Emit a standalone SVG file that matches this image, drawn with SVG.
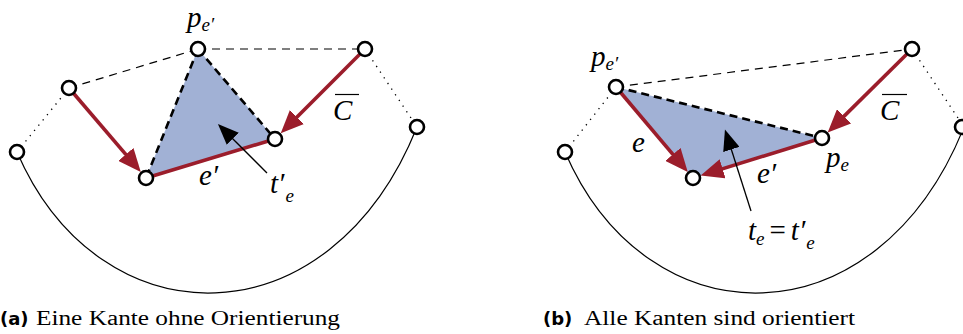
<svg xmlns="http://www.w3.org/2000/svg" width="963" height="334" viewBox="0 0 963 334">
<defs>
<style>
.node{fill:#fff;stroke:#000;stroke-width:2.6}
.red{stroke:#9b1d2b;stroke-width:3.6;fill:none}
.tri{fill:#a1b1d5;stroke:none}
.dash{stroke:#000;stroke-width:1.2;stroke-dasharray:8 6;fill:none}
.dashb{stroke:#000;stroke-width:2.6;stroke-dasharray:8 5;fill:none}
.dot{stroke:#000;stroke-width:1.3;stroke-dasharray:1.3 5.5;fill:none}
.curve{stroke:#000;stroke-width:1.2;fill:none}
.ptr{stroke:#000;stroke-width:1.3;fill:none}
.m{font-family:"Liberation Serif","DejaVu Serif",serif;font-style:italic;fill:#000}
.cap{font-family:"Liberation Serif","DejaVu Serif",serif;font-size:20px;fill:#000}
.capb{font-family:"DejaVu Sans","Liberation Sans",sans-serif;font-weight:bold;font-size:18px;fill:#000}
</style>
<marker id="ar" markerUnits="userSpaceOnUse" markerWidth="24" markerHeight="20" refX="13" refY="10" orient="auto">
<path d="M0,0 L23,10 L0,20 z" fill="#9b1d2b"/>
</marker>
<marker id="ab" markerUnits="userSpaceOnUse" markerWidth="22" markerHeight="17" refX="11" refY="8.5" orient="auto">
<path d="M0,0 L21,8.5 L0,17 z" fill="#000"/>
</marker>
</defs>

<g id="panel-a">
<g id="connectors-a">
<polygon class="tri" points="198,49 146,178 275,139"/>
<path class="curve" d="M17,152 C100,344 330,344 417,127"/>
<line class="dot" x1="17" y1="152" x2="69" y2="88"/>
<line class="dot" x1="365" y1="49" x2="417" y2="127"/>
<line class="dash" x1="69" y1="88" x2="198" y2="49"/>
<line class="dash" x1="198" y1="49" x2="365" y2="49"/>
<line class="dashb" x1="198" y1="49" x2="146" y2="178"/>
<line class="dashb" x1="198" y1="49" x2="275" y2="139"/>
<line class="red" x1="146" y1="178" x2="275" y2="139"/>
<line class="red" x1="69" y1="88" x2="134.3" y2="164.3" marker-end="url(#ar)"/>
<line class="red" x1="365" y1="49" x2="287.8" y2="126.2" marker-end="url(#ar)"/>
<line class="ptr" x1="267" y1="173" x2="225" y2="131" marker-end="url(#ab)"/>
</g>
<g id="a1"><circle class="node" cx="17" cy="152" r="7"/></g>
<g id="a2"><circle class="node" cx="69" cy="88" r="7"/></g>
<g id="a3"><circle class="node" cx="198" cy="49" r="7"/></g>
<g id="a4"><circle class="node" cx="365" cy="49" r="7"/></g>
<g id="a5"><circle class="node" cx="417" cy="127" r="7"/></g>
<g id="a6"><circle class="node" cx="146" cy="178" r="7"/></g>
<g id="a7"><circle class="node" cx="275" cy="139" r="7"/></g>
<text class="m" x="187" y="27" font-size="29">p<tspan font-size="19" dy="4">e′</tspan></text>
<text class="m" x="199" y="185" font-size="29">e′</text>
<text class="m" x="270" y="193" font-size="29">t′<tspan font-size="19" dy="9" dx="1">e</tspan></text>
<text class="m" x="333" y="120" font-size="29">C</text>
<line x1="335" y1="94.5" x2="359" y2="94.5" stroke="#000" stroke-width="1.2"/>
<text x="0" y="325"><tspan class="capb">(a)</tspan></text>
<text class="cap" x="36" y="325" textLength="304" lengthAdjust="spacingAndGlyphs">Eine Kante ohne Orientierung</text>
</g>

<g id="panel-b">
<g id="connectors-b">
<polygon class="tri" points="616,87 693,178 822,138"/>
<path class="curve" d="M565,152 C648,344 877,344 964,127"/>
<line class="dot" x1="565" y1="152" x2="616" y2="87"/>
<line class="dot" x1="912" y1="49" x2="964" y2="127"/>
<line class="dash" x1="616" y1="87" x2="912" y2="49"/>
<line class="dashb" x1="616" y1="87" x2="822" y2="138"/>
<line class="red" x1="616" y1="87" x2="681.3" y2="164.3" marker-end="url(#ar)"/>
<line class="red" x1="822" y1="138" x2="710.2" y2="172.6" marker-end="url(#ar)"/>
<line class="red" x1="912" y1="49" x2="834.8" y2="125.4" marker-end="url(#ar)"/>
<line class="ptr" x1="751" y1="211" x2="728" y2="139" marker-end="url(#ab)"/>
</g>
<g id="b1"><circle class="node" cx="565" cy="152" r="7"/></g>
<g id="b2"><circle class="node" cx="616" cy="87" r="7"/></g>
<g id="b3"><circle class="node" cx="693" cy="178" r="7"/></g>
<g id="b4"><circle class="node" cx="822" cy="138" r="7"/></g>
<g id="b5"><circle class="node" cx="912" cy="49" r="7"/></g>
<g id="b6"><circle class="node" cx="962" cy="127" r="7"/></g>
<text class="m" x="591" y="66" font-size="29">p<tspan font-size="19" dy="4">e′</tspan></text>
<text class="m" x="632" y="152" font-size="29">e</text>
<text class="m" x="757" y="183" font-size="29">e′</text>
<text class="m" x="826" y="167" font-size="29">p<tspan font-size="19" dy="4">e</tspan></text>
<text class="m" x="880" y="120" font-size="29">C</text>
<line x1="882" y1="94.5" x2="907" y2="94.5" stroke="#000" stroke-width="1.2"/>
<text class="m" x="748" y="240" font-size="29">t<tspan font-size="19" dy="5">e</tspan><tspan font-style="normal" font-size="29" dy="-5" dx="5">=</tspan><tspan dx="5">t′</tspan><tspan font-size="19" dy="9" dx="1">e</tspan></text>
<text x="543" y="325"><tspan class="capb">(b)</tspan></text>
<text class="cap" x="584" y="325" textLength="271" lengthAdjust="spacingAndGlyphs">Alle Kanten sind orientiert</text>
</g>
</svg>
